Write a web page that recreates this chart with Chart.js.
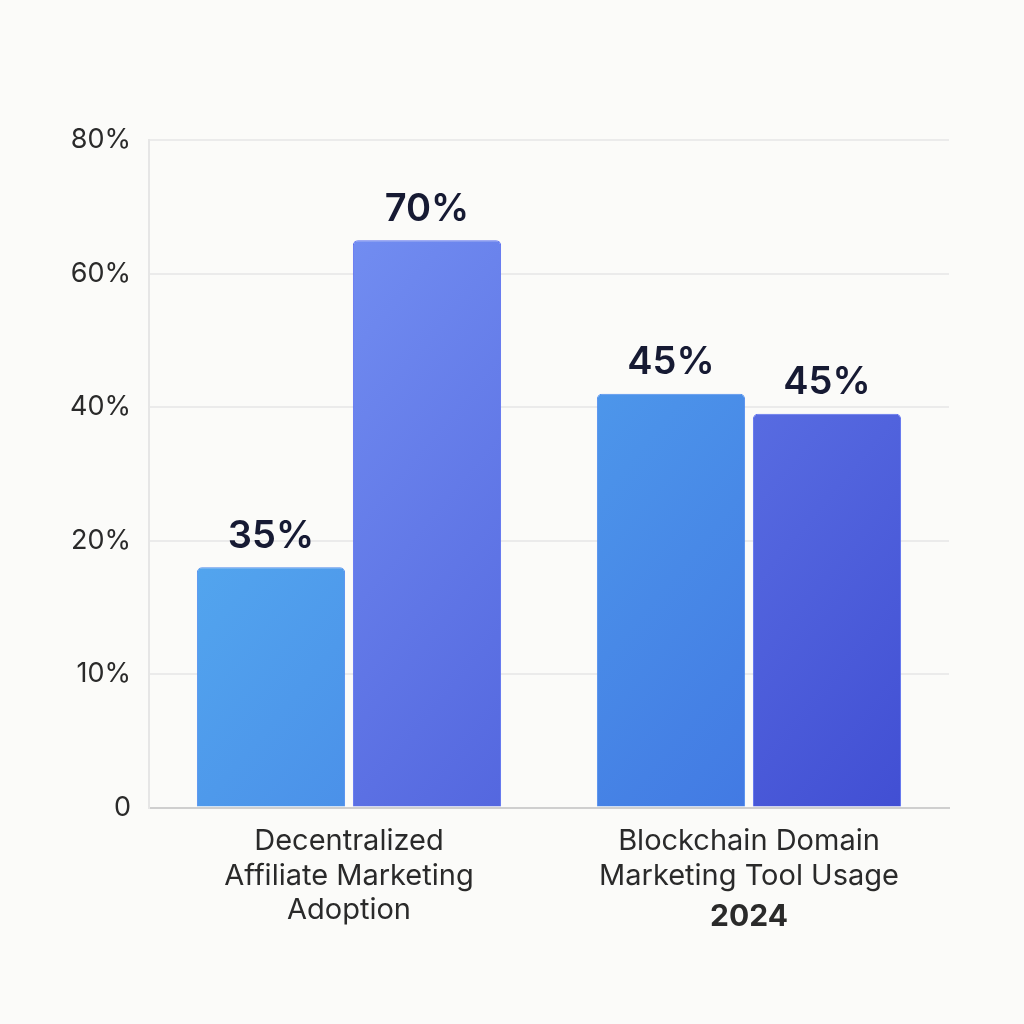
<!DOCTYPE html>
<html>
<head>
<meta charset="utf-8">
<script src="https://cdn.jsdelivr.net/npm/chart.js@4"></script>
<style>
  html, body { margin: 0; background: #fbfbf9; }
  #wrap { width: 1024px; height: 1024px; }
</style>
</head>
<body>
<div id="wrap"><canvas id="c" width="1024" height="1024"></canvas></div>
<script>
// DATA
const categories = [
    ["Decentralized", "Affiliate Marketing", "Adoption"],
    ["Blockchain Domain", "Marketing Tool Usage"]
];
const firstBars = [18, 42];      // bar heights as drawn (%)
const secondBars = [65, 39];
const firstLabels = ["35%", "45%"];
const secondLabels = ["70%", "45%"];
const tickValues = [0, 10, 20, 40, 60, 80];
const tickLabels = ["0", "10%", "20%", "40%", "60%", "80%"];
const yearLabel = "2024";

// axis ticks are evenly spaced, so map a percent to tick index
function toAxis(v) {
    for (let i = 1; i < tickValues.length; i++) {
        if (v <= tickValues[i]) {
            return i - 1 + (v - tickValues[i - 1]) / (tickValues[i] - tickValues[i - 1]);
        }
    }
    return tickValues.length - 1;
}

function grad(ctx, light, dark) {
    const area = ctx.chart.chartArea;
    if (!area) return dark;
    const g = ctx.chart.ctx.createLinearGradient(area.left, area.top, area.right, area.bottom);
    g.addColorStop(0, light);
    g.addColorStop(1, dark);
    return g;
}

// LABELS PLUGIN
const labelPlugin = {
    id: "labels",
    afterDatasetsDraw(chart) {
        const ctx = chart.ctx;
        const texts = [firstLabels, secondLabels];
        ctx.save();
        ctx.font = "600 38px Inter, 'Noto Sans', sans-serif";
        ctx.fillStyle = "#161a33";
        ctx.textAlign = "center";
        ctx.textBaseline = "bottom";
        chart.data.datasets.forEach((ds, di) => {
            chart.getDatasetMeta(di).data.forEach((bar, i) => {
                ctx.fillText(texts[di][i], bar.x, bar.y - 12);
            });
        });
        const x = chart.scales.x.getPixelForValue(1);
        ctx.font = "bold 30px Inter, 'Noto Sans', sans-serif";
        ctx.fillStyle = "#2a2a2a";
        ctx.textBaseline = "middle";
        ctx.fillText(yearLabel, x, 917);
        ctx.restore();
    }
};

new Chart(document.getElementById("c"), {
    type: "bar",
    data: {
        labels: categories,
        datasets: [
            {
                data: firstBars.map(toAxis),
                backgroundColor: ctx => grad(ctx, "#5bbcf4", "#3e6ee0"),
                borderColor: "#4f8cee",
                borderWidth: 1,
                borderRadius: 5,
                borderSkipped: "bottom"
            },
            {
                data: secondBars.map(toAxis),
                backgroundColor: ctx => grad(ctx, "#7f9ef9", "#3f4cd2"),
                borderColor: "#5b6ff0",
                borderWidth: 1,
                borderRadius: 5,
                borderSkipped: "bottom"
            }
        ]
    },
    options: {
        responsive: false,
        animation: false,
        layout: { padding: { left: 52, right: 75, top: 140, bottom: 88 } },
        plugins: { legend: { display: false }, tooltip: { enabled: false } },
        datasets: { bar: { categoryPercentage: 0.78, barPercentage: 0.95 } },
        scales: {
            x: {
                grid: { display: false },
                border: { color: "#cfcfcf", width: 2 },
                ticks: {
                    color: "#2a2a2a",
                    font: { size: 29, family: "Inter, 'Noto Sans', sans-serif" },
                    padding: 8
                }
            },
            y: {
                min: 0,
                max: tickValues.length - 1,
                grid: { color: "#ebebeb", lineWidth: 2, drawTicks: false },
                border: { color: "#e6e6e6", width: 2 },
                ticks: {
                    stepSize: 1,
                    padding: 18,
                    color: "#2a2a2a",
                    font: { size: 27, family: "Inter, 'Noto Sans', sans-serif" },
                    callback: v => tickLabels[v]
                }
            }
        }
    },
    plugins: [labelPlugin]
});
</script>
</body>
</html>
